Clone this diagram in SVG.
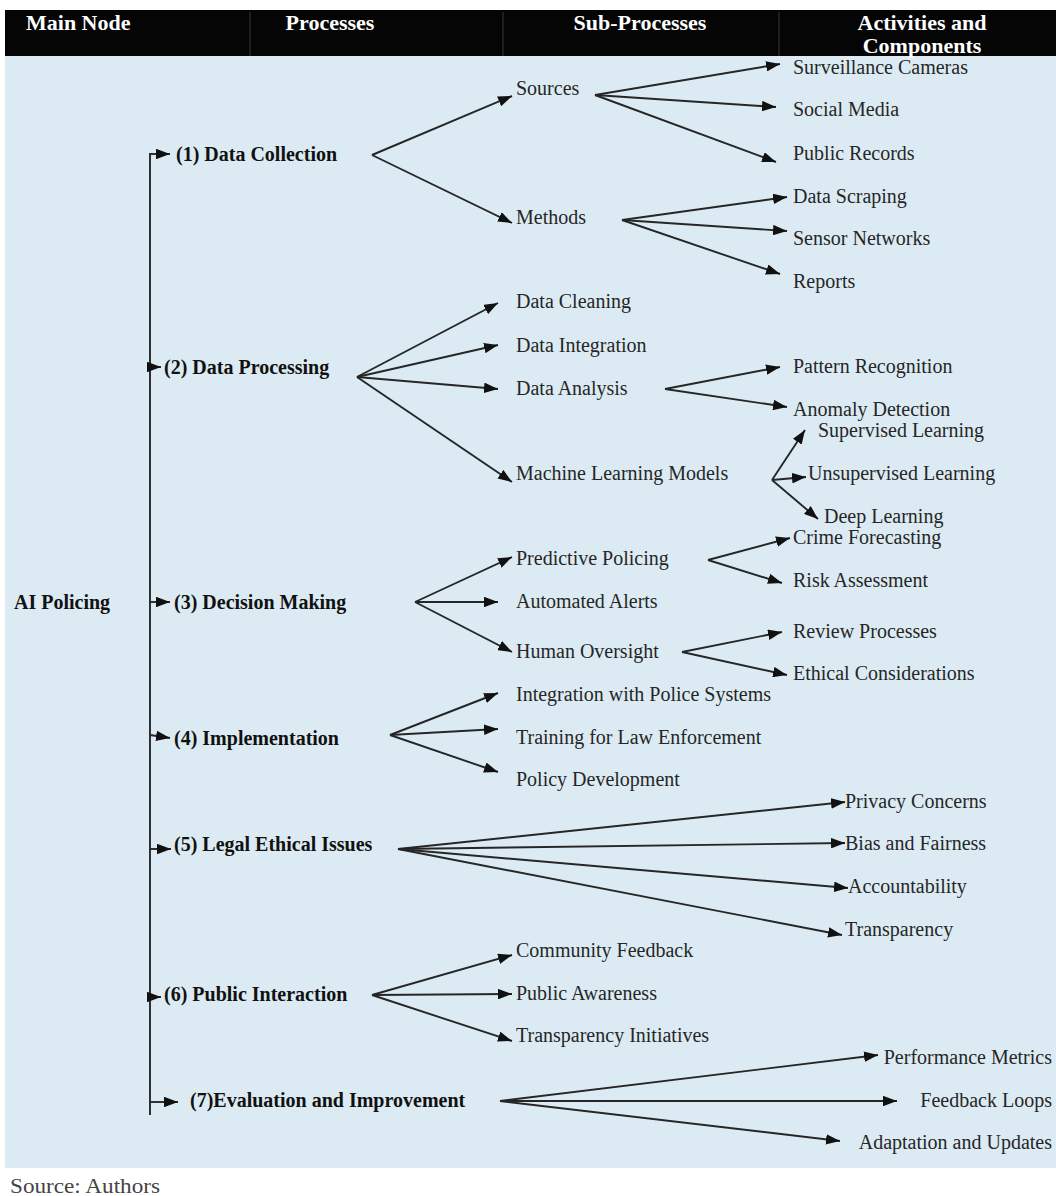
<svg xmlns="http://www.w3.org/2000/svg" width="1056" height="1196" viewBox="0 0 1056 1196">
<style>
.hd{font-family:"Liberation Serif",serif;font-weight:bold;font-size:22px;fill:#fff}
.pr{font-family:"Liberation Serif",serif;font-weight:bold;font-size:20px;fill:#111}
.sb{font-family:"Liberation Serif",serif;font-size:20px;fill:#262626}
.src{font-family:"Liberation Serif",serif;font-size:20px;fill:#444}
.ln{stroke:#262626;stroke-width:1.9;fill:none}
.ar{stroke:#262626;stroke-width:1.9;fill:none;marker-end:url(#ah)}
</style>
<defs>
<marker id="ah" viewBox="0 0 12 9" refX="12" refY="4.5" markerWidth="14" markerHeight="10.5" markerUnits="userSpaceOnUse" orient="auto">
<path d="M0,0 L12,4.5 L0,9 z" fill="#111"/>
</marker>
</defs>
<rect x="0" y="0" width="1056" height="1196" fill="#ffffff"/>
<rect x="5" y="56" width="1051" height="1112" fill="#dcebf3"/>
<g id="header">
<rect x="5" y="10" width="1051" height="46" fill="#050505"/>
<line x1="250" y1="12" x2="250" y2="56" stroke="#3a3a3a" stroke-width="1"/>
<line x1="503" y1="12" x2="503" y2="56" stroke="#3a3a3a" stroke-width="1"/>
<line x1="779" y1="12" x2="779" y2="56" stroke="#3a3a3a" stroke-width="1"/>
<text class="hd" x="26" y="30">Main Node</text>
<text class="hd" x="330" y="30" text-anchor="middle">Processes</text>
<text class="hd" x="640" y="30" text-anchor="middle">Sub-Processes</text>
<text class="hd" x="922" y="30" text-anchor="middle">Activities and</text>
<text class="hd" x="922" y="53" text-anchor="middle">Components</text>
</g>
<g id="connectors">
<line class="ln" x1="150" y1="153" x2="150" y2="1115"/>
<line class="ar" x1="150" y1="154" x2="170" y2="154"/>
<line class="ar" x1="150" y1="367" x2="161" y2="367"/>
<line class="ar" x1="150" y1="602" x2="170" y2="602"/>
<line class="ar" x1="150" y1="735" x2="170" y2="738"/>
<line class="ar" x1="150" y1="849" x2="171" y2="849"/>
<line class="ar" x1="150" y1="997" x2="161" y2="997"/>
<line class="ar" x1="150" y1="1102" x2="178" y2="1102"/>
<line class="ar" x1="372" y1="155" x2="512" y2="96"/>
<line class="ar" x1="372" y1="155" x2="512" y2="223"/>
<line class="ar" x1="595" y1="95" x2="780" y2="64"/>
<line class="ar" x1="595" y1="95" x2="776" y2="107"/>
<line class="ar" x1="595" y1="95" x2="776" y2="162"/>
<line class="ar" x1="622" y1="220" x2="787" y2="197"/>
<line class="ar" x1="622" y1="220" x2="787" y2="231"/>
<line class="ar" x1="622" y1="220" x2="780" y2="274"/>
<line class="ar" x1="357" y1="377" x2="498" y2="303"/>
<line class="ar" x1="357" y1="377" x2="498" y2="345"/>
<line class="ar" x1="357" y1="377" x2="498" y2="389"/>
<line class="ar" x1="357" y1="377" x2="512" y2="482"/>
<line class="ar" x1="665" y1="389" x2="780" y2="367"/>
<line class="ar" x1="665" y1="389" x2="787" y2="407"/>
<line class="ar" x1="772" y1="480" x2="805" y2="430"/>
<line class="ar" x1="772" y1="480" x2="806" y2="477"/>
<line class="ar" x1="772" y1="480" x2="818" y2="519"/>
<line class="ar" x1="415" y1="602" x2="512" y2="557"/>
<line class="ar" x1="415" y1="602" x2="498" y2="602"/>
<line class="ar" x1="415" y1="602" x2="512" y2="652"/>
<line class="ar" x1="708" y1="560" x2="790" y2="538"/>
<line class="ar" x1="708" y1="560" x2="782" y2="583"/>
<line class="ar" x1="682" y1="652" x2="782" y2="632"/>
<line class="ar" x1="682" y1="652" x2="787" y2="675"/>
<line class="ar" x1="390" y1="735" x2="498" y2="693"/>
<line class="ar" x1="390" y1="735" x2="498" y2="729"/>
<line class="ar" x1="390" y1="735" x2="498" y2="772"/>
<line class="ar" x1="398" y1="849" x2="845" y2="802"/>
<line class="ar" x1="398" y1="849" x2="845" y2="843"/>
<line class="ar" x1="398" y1="849" x2="848" y2="888"/>
<line class="ar" x1="398" y1="849" x2="842" y2="935"/>
<line class="ar" x1="372" y1="995" x2="512" y2="955"/>
<line class="ar" x1="372" y1="995" x2="512" y2="994"/>
<line class="ar" x1="372" y1="995" x2="512" y2="1041"/>
<line class="ar" x1="500" y1="1101" x2="878" y2="1055"/>
<line class="ar" x1="500" y1="1101" x2="897" y2="1101"/>
<line class="ar" x1="500" y1="1101" x2="840" y2="1141"/>
</g>
<g id="n-ai-policing"><text class="pr" x="14" y="609">AI Policing</text></g>
<g id="p1"><text class="pr" x="176" y="161">(1) Data Collection</text></g>
<g id="p2"><text class="pr" x="164" y="374">(2) Data Processing</text></g>
<g id="p3"><text class="pr" x="174" y="609">(3) Decision Making</text></g>
<g id="p4"><text class="pr" x="174" y="745">(4) Implementation</text></g>
<g id="p5"><text class="pr" x="174" y="851">(5) Legal Ethical Issues</text></g>
<g id="p6"><text class="pr" x="164" y="1001">(6) Public Interaction</text></g>
<g id="p7"><text class="pr" x="190" y="1107">(7)Evaluation and Improvement</text></g>
<g id="s-sources"><text class="sb" x="516" y="95">Sources</text></g>
<g id="s-methods"><text class="sb" x="516" y="224">Methods</text></g>
<g id="a-surveillance"><text class="sb" x="793" y="74">Surveillance Cameras</text></g>
<g id="a-social"><text class="sb" x="793" y="116">Social Media</text></g>
<g id="a-public-records"><text class="sb" x="793" y="160">Public Records</text></g>
<g id="a-scraping"><text class="sb" x="793" y="203">Data Scraping</text></g>
<g id="a-sensor"><text class="sb" x="793" y="245">Sensor Networks</text></g>
<g id="a-reports"><text class="sb" x="793" y="288">Reports</text></g>
<g id="s-cleaning"><text class="sb" x="516" y="308">Data Cleaning</text></g>
<g id="s-integration"><text class="sb" x="516" y="352">Data Integration</text></g>
<g id="s-analysis"><text class="sb" x="516" y="395">Data Analysis</text></g>
<g id="s-ml"><text class="sb" x="516" y="480">Machine Learning Models</text></g>
<g id="a-pattern"><text class="sb" x="793" y="373">Pattern Recognition</text></g>
<g id="a-anomaly"><text class="sb" x="793" y="416">Anomaly Detection</text></g>
<g id="a-supervised"><text class="sb" x="818" y="437">Supervised Learning</text></g>
<g id="a-unsupervised"><text class="sb" x="808" y="480">Unsupervised Learning</text></g>
<g id="a-deep"><text class="sb" x="824" y="523">Deep Learning</text></g>
<g id="s-predictive"><text class="sb" x="516" y="565">Predictive Policing</text></g>
<g id="s-alerts"><text class="sb" x="516" y="608">Automated Alerts</text></g>
<g id="s-human"><text class="sb" x="516" y="658">Human Oversight</text></g>
<g id="a-crime"><text class="sb" x="793" y="544">Crime Forecasting</text></g>
<g id="a-risk"><text class="sb" x="793" y="587">Risk Assessment</text></g>
<g id="a-review"><text class="sb" x="793" y="638">Review Processes</text></g>
<g id="a-ethical"><text class="sb" x="793" y="680">Ethical Considerations</text></g>
<g id="s-police-systems"><text class="sb" x="516" y="701">Integration with Police Systems</text></g>
<g id="s-training"><text class="sb" x="516" y="744">Training for Law Enforcement</text></g>
<g id="s-policy"><text class="sb" x="516" y="786">Policy Development</text></g>
<g id="a-privacy"><text class="sb" x="845" y="808">Privacy Concerns</text></g>
<g id="a-bias"><text class="sb" x="845" y="850">Bias and Fairness</text></g>
<g id="a-accountability"><text class="sb" x="848" y="893">Accountability</text></g>
<g id="a-transparency"><text class="sb" x="845" y="936">Transparency</text></g>
<g id="s-community"><text class="sb" x="516" y="957">Community Feedback</text></g>
<g id="s-awareness"><text class="sb" x="516" y="1000">Public Awareness</text></g>
<g id="s-initiatives"><text class="sb" x="516" y="1042">Transparency Initiatives</text></g>
<g id="a-performance"><text class="sb" x="1052" y="1064" text-anchor="end">Performance Metrics</text></g>
<g id="a-feedback"><text class="sb" x="1052" y="1107" text-anchor="end">Feedback Loops</text></g>
<g id="a-adaptation"><text class="sb" x="1052" y="1149" text-anchor="end">Adaptation and Updates</text></g>
<text class="src" x="10" y="1193" textLength="150" lengthAdjust="spacingAndGlyphs">Source: Authors</text>
</svg>
